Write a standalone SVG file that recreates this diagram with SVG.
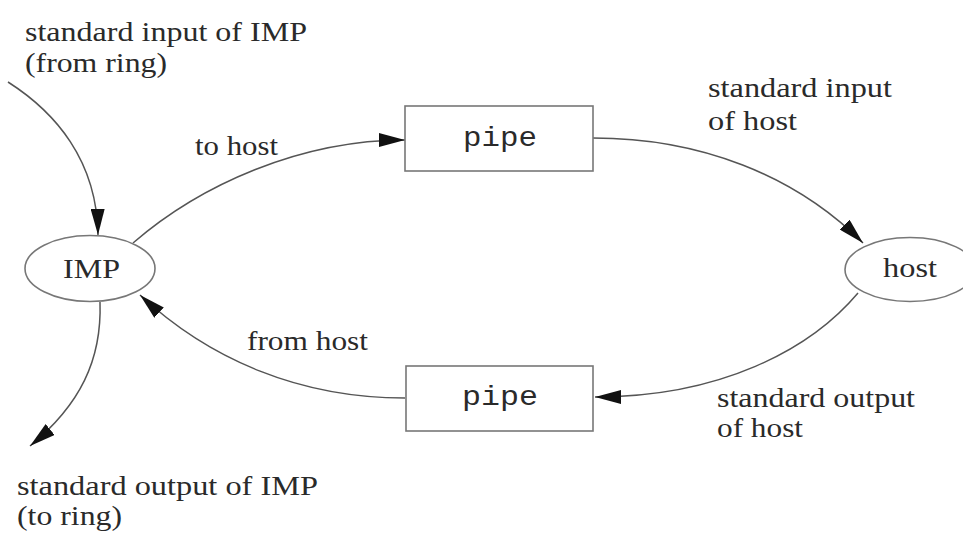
<svg xmlns="http://www.w3.org/2000/svg" width="963" height="533" viewBox="0 0 963 533">
<style>
.t{font-family:"Liberation Serif","Times New Roman",serif;font-size:28px;fill:#2a2a2a}
.m{font-family:"Liberation Mono","Courier New",monospace;font-size:28px;fill:#2a2a2a}
.n{fill:#fff;stroke:#777;stroke-width:1.6}
.e{fill:none;stroke:#555;stroke-width:1.5}
</style>
<defs>
<marker id="ah" markerUnits="userSpaceOnUse" markerWidth="28" markerHeight="14" refX="26" refY="7" orient="auto">
<path d="M0,0 L26,7 L0,14 z" fill="#111"/>
</marker>
</defs>
<rect width="963" height="533" fill="#fff"/>
<g id="connectors">
<path class="e" d="M8,82 C55,112 97,160 98,235" marker-end="url(#ah)"/>
<path class="e" d="M133,243 C200,185 300,140 405,140" marker-end="url(#ah)"/>
<path class="e" d="M593,138 C700,138 795,175 863,243" marker-end="url(#ah)"/>
<path class="e" d="M858,293 C810,350 720,397 595,397" marker-end="url(#ah)"/>
<path class="e" d="M405,398 C300,398 210,360 140,295" marker-end="url(#ah)"/>
<path class="e" d="M100,302 C102,360 80,405 30,446" marker-end="url(#ah)"/>
</g>
<g id="labels">
<text class="t" x="25" y="41" textLength="282" lengthAdjust="spacingAndGlyphs">standard input of IMP</text>
<text class="t" x="25" y="72" textLength="142" lengthAdjust="spacingAndGlyphs">(from ring)</text>
<text class="t" x="195" y="155" textLength="83" lengthAdjust="spacingAndGlyphs">to host</text>
<text class="t" x="708" y="97" textLength="184" lengthAdjust="spacingAndGlyphs">standard input</text>
<text class="t" x="708" y="130" textLength="89" lengthAdjust="spacingAndGlyphs">of host</text>
<text class="t" x="247" y="350" textLength="121" lengthAdjust="spacingAndGlyphs">from host</text>
<text class="t" x="717" y="407" textLength="198" lengthAdjust="spacingAndGlyphs">standard output</text>
<text class="t" x="717" y="437" textLength="86" lengthAdjust="spacingAndGlyphs">of host</text>
<text class="t" x="17" y="495" textLength="301" lengthAdjust="spacingAndGlyphs">standard output of IMP</text>
<text class="t" x="17" y="525" textLength="105" lengthAdjust="spacingAndGlyphs">(to ring)</text>
</g>
<g id="IMP">
<ellipse class="n" cx="90" cy="268.5" rx="65" ry="33"/>
<text class="t" x="63" y="278" textLength="57" lengthAdjust="spacingAndGlyphs">IMP</text>
</g>
<g id="host">
<ellipse class="n" cx="910" cy="269.5" rx="65" ry="32"/>
<text class="t" x="883" y="277" textLength="54" lengthAdjust="spacingAndGlyphs">host</text>
</g>
<g id="pipe1">
<rect class="n" x="405" y="106" width="188" height="65"/>
<text class="m" x="463" y="146" textLength="74" lengthAdjust="spacingAndGlyphs">pipe</text>
</g>
<g id="pipe2">
<rect class="n" x="406" y="366" width="187" height="65"/>
<text class="m" x="462" y="405" textLength="76" lengthAdjust="spacingAndGlyphs">pipe</text>
</g>
</svg>
